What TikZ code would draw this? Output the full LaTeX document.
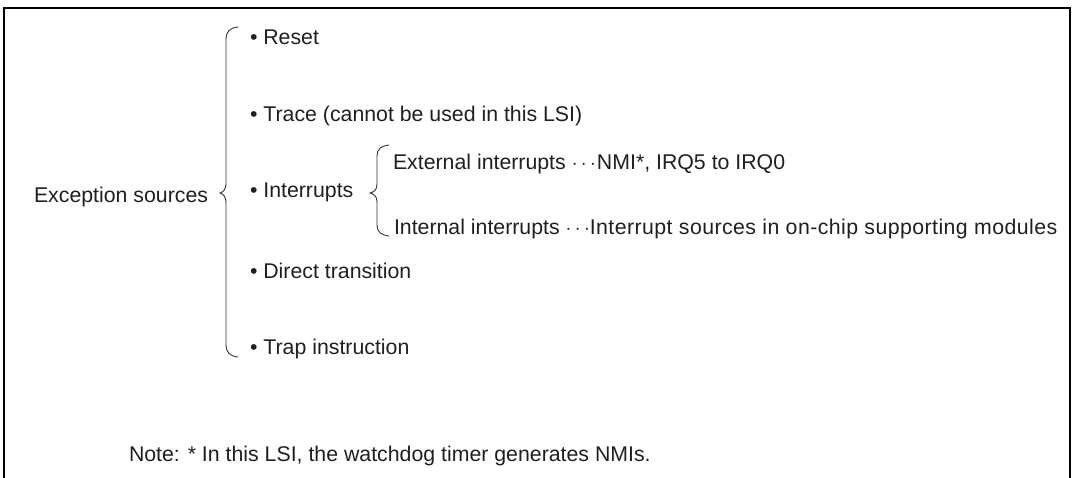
\documentclass[tikz,border=0pt]{standalone}
\usepackage{fontspec}
\setmainfont{Liberation Sans}
\begin{document}
\begin{tikzpicture}[x=1pt,y=-1pt,
  txt/.style={anchor=base west,inner sep=0pt,outer sep=0pt,text=black!88,font=\fontsize{21.3}{24}\selectfont},
  brc/.style={draw=black!80,line width=0.9pt}]
\useasboundingbox (0,0) rectangle (1073,477);
\draw[line width=2.3pt] (3.8,478) -- (3.8,7.8) -- (1070,7.8) -- (1070,478);
% texts
\node[txt] (exc) at (34,202) {Exception sources};
\node[txt] (reset) at (250,44) {• Reset};
\node[txt] (trace) at (250,121) {• Trace (cannot be used in this LSI)};
\node[txt] (intr) at (250,197) {• Interrupts};
\node[txt] (direct) at (250,278) {• Direct transition};
\node[txt] (trap) at (250,354) {• Trap instruction};
\node[txt] (ext) at (393,169) {External interrupts $\cdots$\kern1pt NMI*, IRQ5 to IRQ0};
\node[txt] (int) at (394,234) {Internal interrupts $\cdots${\addfontfeature{LetterSpace=2.0}Interrupt sources in on-chip supporting modules}};
\node[txt] (note) at (129,461) {Note: * In this LSI, the watchdog timer generates NMIs.};
% big brace
\draw[brc] (238,27) .. controls (230,28) and (226,31) .. (226,40)
  -- (226,183) .. controls (226,190) and (223,192) .. (220,193)
  .. controls (223,194) and (226,196) .. (226,203)
  -- (226,344) .. controls (226,353) and (230,356) .. (238,357);
% small brace
\draw[brc] (389,145) .. controls (381,146) and (377,149) .. (377,156)
  -- (377,184) .. controls (377,190) and (374,192) .. (370,193)
  .. controls (374,194) and (377,196) .. (377,202)
  -- (377,225) .. controls (377,232) and (381,235) .. (389,236);
\end{tikzpicture}
\end{document}
